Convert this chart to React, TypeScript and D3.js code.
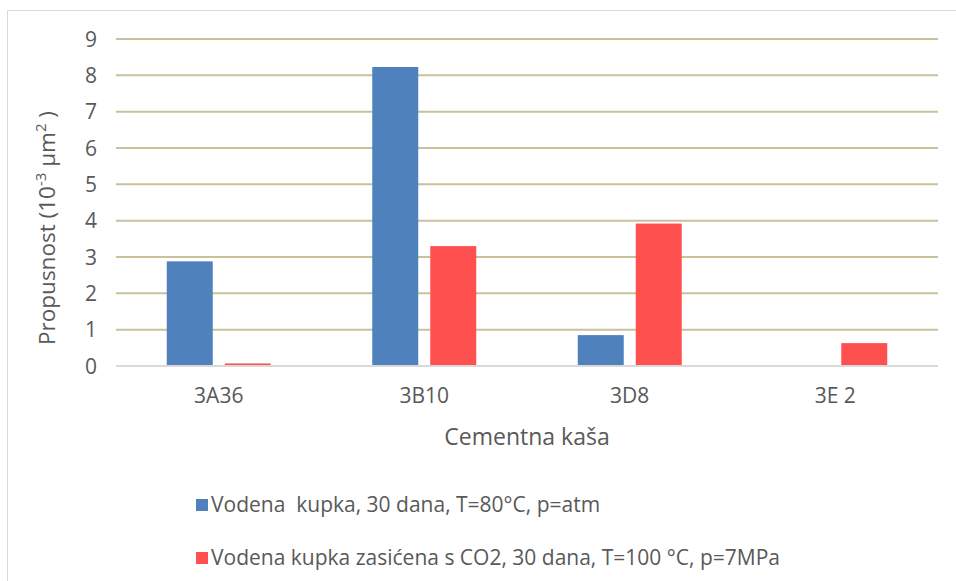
import React from "react";
import * as d3 from "d3";

const categories = ["3A36", "3B10", "3D8", "3E 2"];
const seriesNames = [
  "Vodena  kupka, 30 dana, T=80°C, p=atm",
  "Vodena kupka zasićena s CO2, 30 dana, T=100 °C, p=7MPa",
];
const seriesA = [2.88, 8.23, 0.85, 0.02];
const seriesB = [0.07, 3.3, 3.92, 0.63];
const yTicks = [0, 1, 2, 3, 4, 5, 6, 7, 8, 9];
const colors = ["#4F81BD", "#FF5050"];

const W = 956, H = 581;
const left = 116, right = 938, top = 39, bottom = 366;
const FONT = "'Open Sans', 'Liberation Sans', Arial, sans-serif";

export default function App() {
  const x = d3.scaleBand<string>().domain(categories).range([left, right]);
  const y = d3.scaleLinear().domain([0, 9]).range([bottom, top]);
  const barW = 46;
  const gap = 12;
  const series = [seriesA, seriesB];
  return (
    <svg width={W} height={H} style={{ position: "absolute", left: 0, top: 0 }} fontFamily={FONT}>
      <rect x={0} y={0} width={W} height={H} fill="#fff" />
      <rect x={7.5} y={10.5} width={W + 10} height={H + 10} fill="none" stroke="#d9d9d9" strokeWidth={1} />
      {yTicks.filter((t) => t > 0).map((t) => (
        <line key={t} x1={left} x2={right} y1={y(t)} y2={y(t)} stroke="#C9C19C" strokeWidth={2} />
      ))}
      {series.map((s, si) =>
        s.map((v, i) => {
          const c = x(categories[i])! + x.bandwidth() / 2;
          const bx = si === 0 ? c - gap / 2 - barW : c + gap / 2;
          return (
            <rect key={si + "-" + i} x={bx} y={y(v)} width={barW} height={y(0) - y(v)} fill={colors[si]} />
          );
        })
      )}
      <line x1={left} x2={right} y1={y(0)} y2={y(0)} stroke="#D9D9D9" strokeWidth={2} />
      {yTicks.map((t) => (
        <text key={t} x={97} y={y(t)} dy="0.36em" textAnchor="end" fontSize={21} fill="#595959">
          {t}
        </text>
      ))}
      {categories.map((c) => (
        <text key={c} x={x(c)! + x.bandwidth() / 2} y={403} textAnchor="middle" fontSize={21} fill="#595959">
          {c}
        </text>
      ))}
      <text x={527} y={445} textAnchor="middle" fontSize={23} fill="#595959">Cementna kaša</text>
      <text transform="translate(55,228) rotate(-90)" textAnchor="middle" fontSize={22.5} fill="#595959">
        Propusnost (10<tspan dy={-9} fontSize={15}>-3</tspan>
        <tspan dy={9}> µm</tspan>
        <tspan dy={-9} fontSize={15}>2</tspan>
        <tspan dy={9}> )</tspan>
      </text>
      {seriesNames.map((n, i) => (
        <g key={n} transform={`translate(196,${505 + i * 53})`}>
          <rect x={0} y={-6} width={12} height={12} fill={colors[i]} />
          <text x={15} y={0} dy="0.35em" fontSize={21} fill="#595959" style={{ whiteSpace: "pre" }}>{n}</text>
        </g>
      ))}
    </svg>
  );
}
